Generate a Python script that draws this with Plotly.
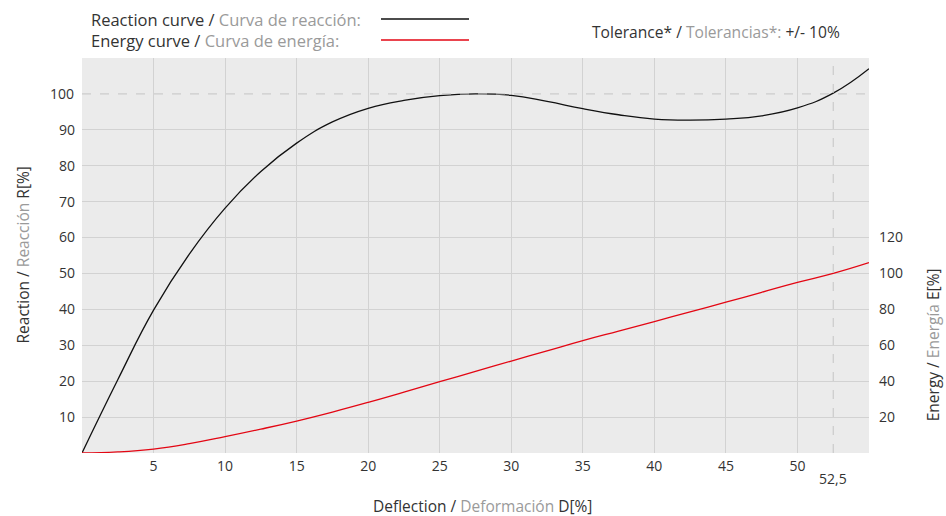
import plotly.graph_objects as go

deflection = [0, 2.5, 5, 7.5, 10, 12.5, 15, 17.5, 20, 22.5, 25, 27.5, 30, 32.5, 35, 37.5, 40, 42.5, 45, 47.5, 50, 52.5, 55]
reaction = [0, 20.4, 39.8, 55.4, 68.2, 78.4, 86.3, 92.2, 96.0, 98.2, 99.5, 100, 99.6, 97.9, 95.9, 94.2, 93.0, 92.7, 93.0, 93.9, 96.1, 100.2, 107]
energy = [0, 0.6, 2.2, 5.2, 9.1, 13.3, 17.8, 22.8, 28.2, 33.9, 39.7, 45.5, 51.2, 56.9, 62.6, 67.9, 73.2, 78.6, 84, 89.5, 95, 100, 106]

x_ticks = [5, 10, 15, 20, 25, 30, 35, 40, 45, 50]
y_ticks = [10, 20, 30, 40, 50, 60, 70, 80, 90]
e_ticks = [20, 40, 60, 80, 100, 120]

DARK = "#333333"
LIGHT = "#9a9a9a"
GRID = "#d2d2d2"
FONT = "Open Sans"

fig = go.Figure()
fig.add_trace(go.Scatter(x=deflection, y=reaction, mode="lines", line=dict(color="#111111", width=1.3, shape="spline", smoothing=1.3), showlegend=False, hoverinfo="skip"))
fig.add_trace(go.Scatter(x=deflection, y=energy, mode="lines", line=dict(color="#e30613", width=1.3, shape="spline", smoothing=1.3), yaxis="y2", showlegend=False, hoverinfo="skip"))

fig.update_layout(
    width=946, height=516,
    margin=dict(l=82, r=77, t=58, b=63),
    paper_bgcolor="white", plot_bgcolor="#ebebeb",
    font=dict(family=FONT, color=DARK, size=14),
    xaxis=dict(range=[0, 55], tickvals=x_ticks, showgrid=True, gridcolor=GRID, gridwidth=1,
               zeroline=False, showline=False, ticks="", tickfont=dict(size=14, color=DARK), ticklabelstandoff=3),
    yaxis=dict(range=[0, 110], tickvals=y_ticks, showgrid=True, gridcolor=GRID, gridwidth=1,
               zeroline=False, showline=False, ticks="", tickfont=dict(size=14, color=DARK), ticklabelstandoff=6),
    yaxis2=dict(range=[0, 220], tickvals=e_ticks, overlaying="y", side="right", showgrid=False,
                zeroline=False, showline=False, ticks="", tickfont=dict(size=14, color=DARK), ticklabelstandoff=9),
)

# reference dashed lines
fig.add_shape(type="line", xref="x", yref="y", x0=0, x1=55, y0=100, y1=100, line=dict(color="#c4c4c4", width=1, dash="dash"))
fig.add_shape(type="line", xref="x", yref="paper", x0=52.5, x1=52.5, y0=0, y1=1, line=dict(color="#c4c4c4", width=1, dash="dash"))
fig.add_annotation(x=52.5, y=0, xref="x", yref="paper", yshift=-25, yanchor="middle", text="52,5", showarrow=False, font=dict(size=14, color=DARK))

# y label 100 (dashed line instead of grid)
fig.add_annotation(xref="paper", yref="y", x=0, y=100, xanchor="right", xshift=-6, text="100", showarrow=False, font=dict(size=14, color=DARK))

# axis titles
fig.add_annotation(xref="paper", yref="paper", x=(482 - 82) / 787, y=0, yshift=-53, yanchor="middle",
                   text="Deflection / <span style='color:%s'>Deformación</span> D[%%]" % LIGHT,
                   showarrow=False, font=dict(size=15.5, color=DARK))
fig.add_annotation(xref="paper", yref="paper", x=0, xshift=-60, xanchor="center", y=0.5, textangle=-90,
                   text="Reaction / <span style='color:%s'>Reacción</span> R[%%]" % LIGHT,
                   showarrow=False, font=dict(size=15.5, color=DARK))
fig.add_annotation(xref="paper", yref="y", x=1, xshift=64, xanchor="center", y=30, textangle=-90,
                   text="Energy / <span style='color:%s'>Energía</span> E[%%]" % LIGHT,
                   showarrow=False, font=dict(size=15.5, color=DARK))

# legend (custom)
fig.add_annotation(xref="paper", yref="paper", x=(89 - 82) / 787, y=1, yshift=39, xanchor="left", yanchor="middle",
                   text="Reaction curve / <span style='color:%s'>Curva de reacción:</span>" % LIGHT,
                   showarrow=False, font=dict(size=16.5, color=DARK))
fig.add_annotation(xref="paper", yref="paper", x=(89 - 82) / 787, y=1, yshift=18, xanchor="left", yanchor="middle",
                   text="Energy curve / <span style='color:%s'>Curva de energía:</span>" % LIGHT,
                   showarrow=False, font=dict(size=16.5, color=DARK))
fig.add_shape(type="line", xref="paper", yref="paper", x0=(381 - 82) / 787, x1=(469 - 82) / 787,
              y0=(453 - 19) / 395, y1=(453 - 19) / 395, line=dict(color="#111111", width=1.3))
fig.add_shape(type="line", xref="paper", yref="paper", x0=(381 - 82) / 787, x1=(469 - 82) / 787,
              y0=(453 - 40) / 395, y1=(453 - 40) / 395, line=dict(color="#e30613", width=1.3))
fig.add_annotation(xref="paper", yref="paper", x=(590 - 82) / 787, y=1, yshift=26, xanchor="left", yanchor="middle",
                   text="Tolerance* / <span style='color:%s'>Tolerancias*:</span> +/- 10%%" % LIGHT,
                   showarrow=False, font=dict(size=15.6, color=DARK))

fig.write_html("out.html", config={"displayModeBar": False},
               post_script="document.body.style.margin='0';document.body.style.padding='0';")
